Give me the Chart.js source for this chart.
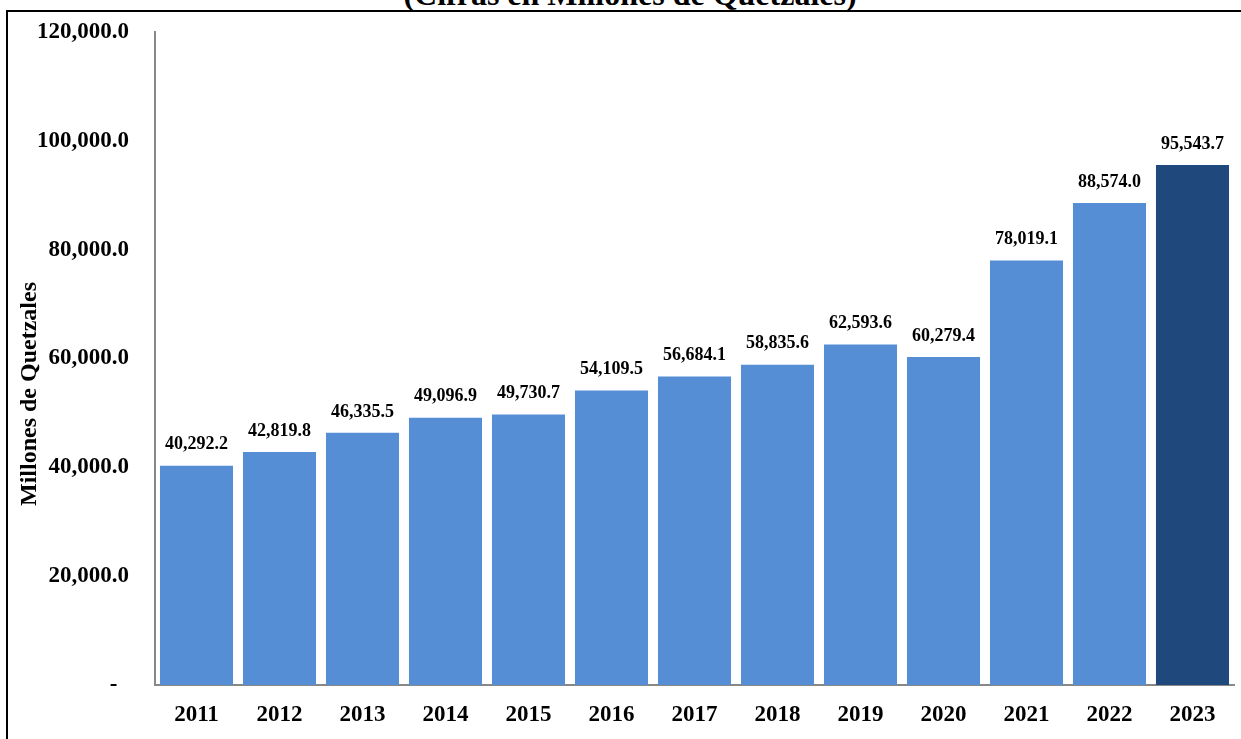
<!DOCTYPE html>
<html>
<head>
<meta charset="utf-8">
<script src="https://cdn.jsdelivr.net/npm/chart.js@4.4.0/dist/chart.umd.min.js"></script>
<style>
  body { margin: 0; background: #fff; overflow: hidden; }
  #frame { position: absolute; left: 6px; top: 10px; width: 1300px; height: 800px;
           border-left: 2px solid #000; border-top: 2px solid #000; }
  #title { position: absolute; left: 0; width: 1260px; top: -24px; line-height: 36px; text-align: center;
           font: bold 32px "Liberation Serif", "Times New Roman", serif; color: #000; }
  #chart { position: absolute; left: 0; top: 0; }
</style>
</head>
<body>
<div id="frame"></div>
<div id="title">(Cifras en Millones de Quetzales)</div>
<canvas id="chart" width="1241" height="739"></canvas>
<script>
const years = ['2011', '2012', '2013', '2014', '2015', '2016', '2017', '2018', '2019', '2020', '2021', '2022', '2023'];
const amounts = [40292.2, 42819.8, 46335.5, 49096.9, 49730.7, 54109.5, 56684.1, 58835.6, 62593.6, 60279.4, 78019.1, 88574.0, 95543.7];
const yTicks = [0, 20000, 40000, 60000, 80000, 100000, 120000];
const yTitle = 'Millones de Quetzales';

const serif = '"Liberation Serif", "Times New Roman", serif';
const fmt = (v) => v === 0 ? '-  ' : v.toLocaleString('en-US', { minimumFractionDigits: 1, maximumFractionDigits: 1 });

// value labels above each bar + rotated axis title (sits a bit below the axis middle)
const barLabels = {
  id: 'barLabels',
  afterDatasetsDraw(chart) {
    const ctx = chart.ctx;
    const meta = chart.getDatasetMeta(0);
    ctx.save();
    ctx.font = 'bold 18px ' + serif;
    ctx.fillStyle = '#000';
    ctx.textAlign = 'center';
    ctx.textBaseline = 'middle';
    meta.data.forEach((bar, i) => {
      ctx.fillText(fmt(amounts[i]), bar.x, bar.y - 21);
    });
    ctx.translate(30, 394);
    ctx.rotate(-Math.PI / 2);
    ctx.font = 'bold 24px ' + serif;
    ctx.fillText(yTitle, 0, 0);
    ctx.restore();
  }
};

const canvasChart = document.querySelector('#chart');

let config = {
  type: 'bar',
  data: {
    labels: years,
    datasets: [
      {
        data: amounts,
        backgroundColor: years.map((y, i) => i === years.length - 1 ? '#1F497D' : '#558ED5'),
        barPercentage: 0.88,
        categoryPercentage: 1.0,
      },
    ],
  },
  options: {
    responsive: false,
    animation: false,
    layout: { padding: { left: 5, top: 32, right: 7, bottom: 0 } },
    plugins: {
      legend: { display: false },
      tooltip: { enabled: false },
    },
    scales: {
      x: {
        grid: { display: false, drawTicks: false },
        border: { color: '#888', width: 2 },
        ticks: { color: '#000', font: { family: serif, size: 23, weight: 'bold' }, padding: 16 },
        afterFit: (s) => { s.height = 54; s.paddingLeft = 0; s.paddingRight = 0; },
      },
      y: {
        min: 0,
        max: 120000,
        afterBuildTicks: (s) => { s.ticks = yTicks.map((v) => ({ value: v })); },
        grid: { display: false, drawTicks: false },
        border: { color: '#888', width: 2 },
        ticks: {
          color: '#000',
          font: { family: serif, size: 23, weight: 'bold' },
          padding: 26,
          callback: (v) => fmt(v),
        },
        afterFit: (s) => { s.width = 150; s.paddingTop = 0; s.paddingBottom = 0; },
      },
    },
  },
  plugins: [barLabels],
};

let chart = new Chart(canvasChart, config);
</script>
</body>
</html>
